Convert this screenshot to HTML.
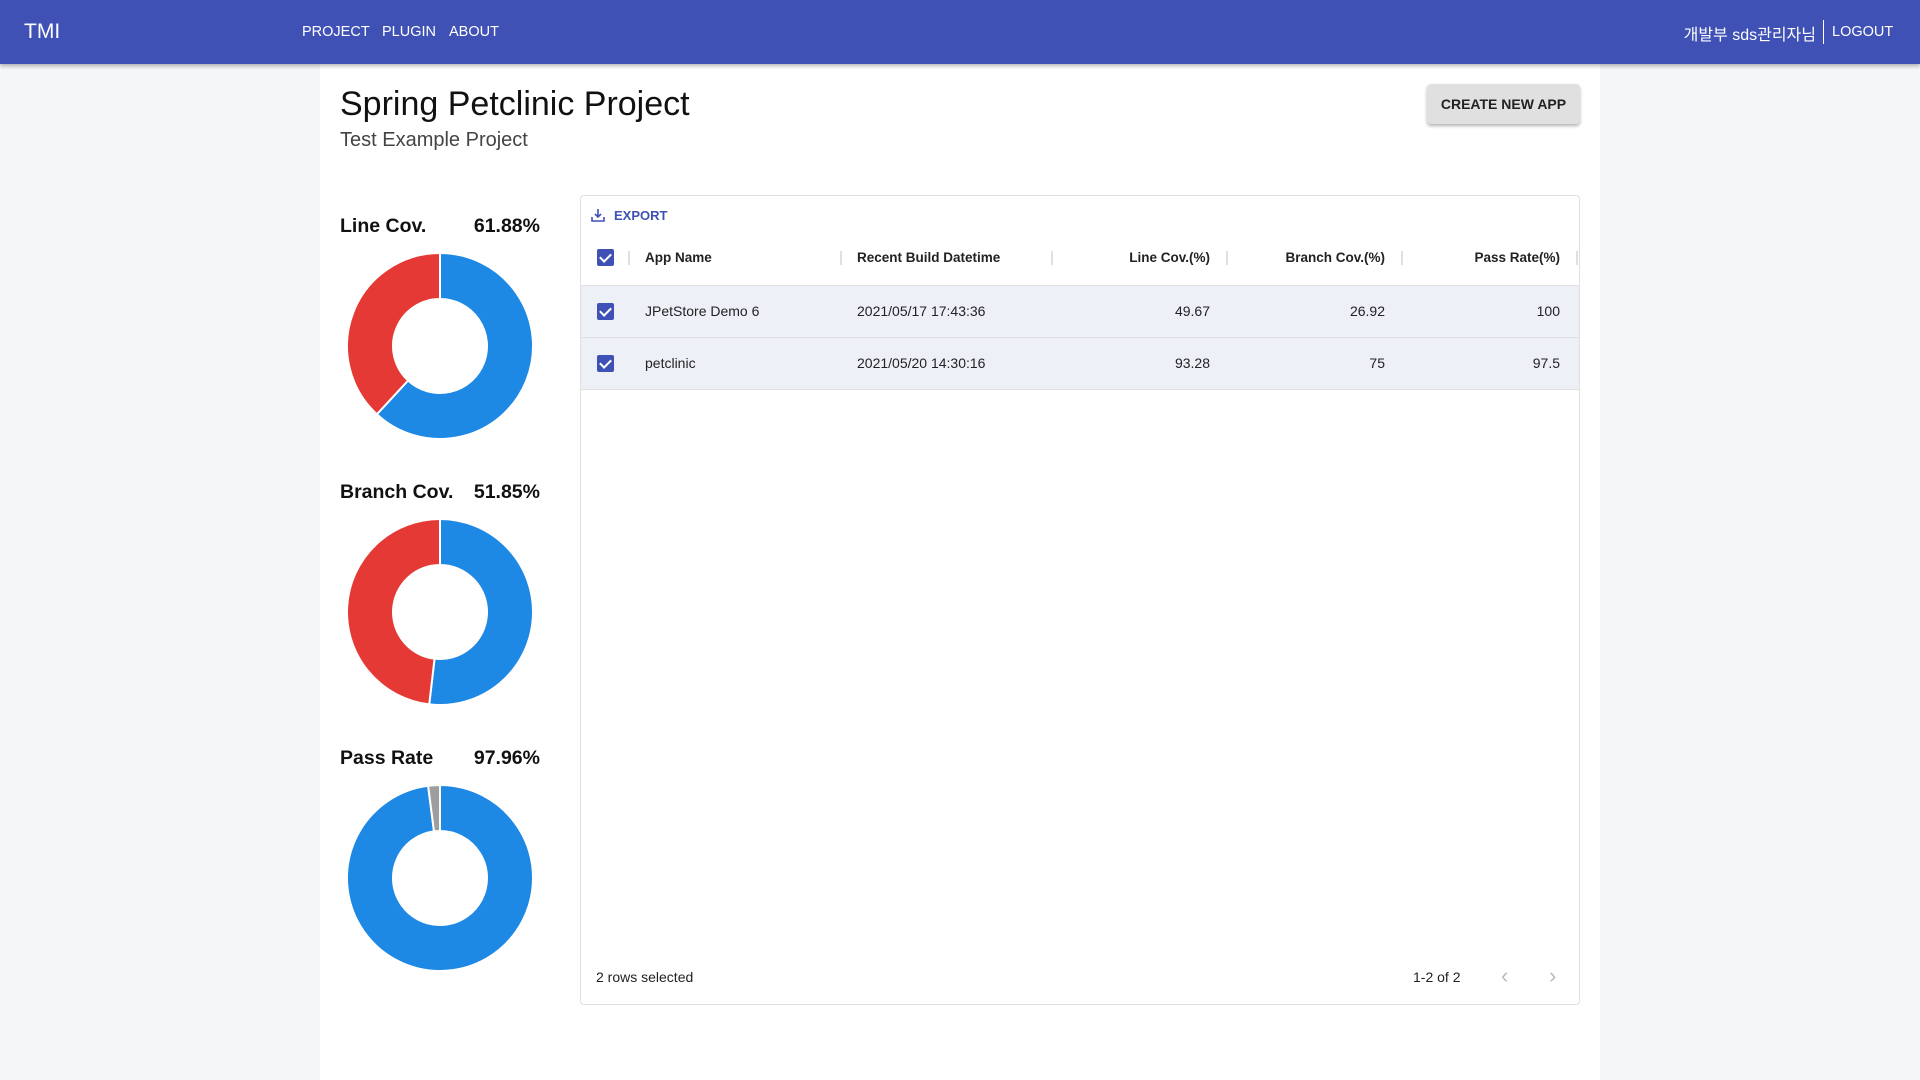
<!DOCTYPE html>
<html><head><meta charset="utf-8">
<style>
*{box-sizing:border-box;margin:0;padding:0}
body{width:1920px;height:1080px;overflow:hidden;background:#f5f6f8;font-family:"Liberation Sans","Noto Sans CJK KR",sans-serif;color:#212121;position:relative}
.abs{position:absolute}
#hdr{left:0;top:0;width:1920px;height:64px;background:#3f51b5;box-shadow:0 2px 4px rgba(0,0,0,.3);color:#fff;z-index:2}
.nav{font-size:14.5px;font-weight:500;top:24px}
#panel{left:320px;top:64px;width:1280px;height:1016px;background:#fff}
#tbl{left:580px;top:195px;width:1000px;height:810px;border:1px solid #e0e0e0;border-radius:4px;background:#fff}
.cell{font-size:14px;color:#222;position:absolute}
.hcell{font-size:13.5px;font-weight:bold;color:#222;position:absolute}
.sep{position:absolute;width:2px;height:14px;background:#e0e0e0}
.cb{position:absolute;width:17px;height:17px;background:#3f51b5;border-radius:2px}
.cb:after{content:"";position:absolute;left:5px;top:2px;width:5px;height:9px;border:solid #fff;border-width:0 2px 2px 0;transform:rotate(45deg)}
.row{position:absolute;left:0;width:998px;background:#eef0f8;border-bottom:1px solid #e0e0e0}
</style></head><body>
<div id="hdr" class="abs">
 <div class="abs" style="left:24px;top:20px;font-size:21px">TMI</div>
 <div class="abs nav" style="left:302px">PROJECT</div>
 <div class="abs nav" style="left:382px">PLUGIN</div>
 <div class="abs nav" style="left:449px">ABOUT</div>
 <div class="abs" style="right:104px;top:21px;font-size:16px">개발부 sds관리자님</div>
 <div class="abs" style="left:1823px;top:20px;width:1px;height:24px;background:#fff"></div>
 <div class="abs nav" style="left:1832px">LOGOUT</div>
</div>
<div id="panel" class="abs"></div>
<div class="abs" style="left:340px;top:85px;font-size:34px;color:#111">Spring Petclinic Project</div>
<div class="abs" style="left:340px;top:129px;font-size:20px;color:#444">Test Example Project</div>
<div class="abs" style="left:1427px;top:84px;width:153px;height:40px;background:#e0e0e0;border-radius:4px;box-shadow:0 2px 3px rgba(0,0,0,.3);font-size:14px;font-weight:bold;text-align:center;line-height:40px;color:#222">CREATE NEW APP</div>

<svg id="donuts" class="abs" style="left:320px;top:195px" width="260" height="800"></svg>

<div id="tbl" class="abs">
 <svg class="abs" style="left:9px;top:11px" width="16" height="16" viewBox="0 0 16 16"><path d="M8 2v8M5 7l3 3 3-3M2 10v4h12v-4" fill="none" stroke="#3f51b5" stroke-width="1.6"/></svg>
 <div class="abs" style="left:33px;top:12px;font-size:13px;font-weight:bold;color:#3f51b5">EXPORT</div>
 <div class="cb" style="left:16px;top:53px"></div>
 <div class="sep" style="left:47px;top:55px"></div>
 <div class="hcell" style="left:64px;top:54px">App Name</div>
 <div class="sep" style="left:259px;top:55px"></div>
 <div class="hcell" style="left:276px;top:54px">Recent Build Datetime</div>
 <div class="sep" style="left:470px;top:55px"></div>
 <div class="hcell" style="right:369px;top:54px">Line Cov.(%)</div>
 <div class="sep" style="left:645px;top:55px"></div>
 <div class="hcell" style="right:194px;top:54px">Branch Cov.(%)</div>
 <div class="sep" style="left:820px;top:55px"></div>
 <div class="hcell" style="right:19px;top:54px">Pass Rate(%)</div>
 <div class="sep" style="left:995px;top:55px"></div>
 <div class="abs" style="left:0;top:89px;width:998px;height:1px;background:#e0e0e0"></div>
 <div class="row" style="top:90px;height:52px">
  <div class="cb" style="left:16px;top:17px"></div>
  <div class="cell" style="left:64px;top:17px">JPetStore Demo 6</div>
  <div class="cell" style="left:276px;top:17px">2021/05/17 17:43:36</div>
  <div class="cell" style="right:369px;top:17px">49.67</div>
  <div class="cell" style="right:194px;top:17px">26.92</div>
  <div class="cell" style="right:19px;top:17px">100</div>
 </div>
 <div class="row" style="top:142px;height:52px">
  <div class="cb" style="left:16px;top:17px"></div>
  <div class="cell" style="left:64px;top:17px">petclinic</div>
  <div class="cell" style="left:276px;top:17px">2021/05/20 14:30:16</div>
  <div class="cell" style="right:369px;top:17px">93.28</div>
  <div class="cell" style="right:194px;top:17px">75</div>
  <div class="cell" style="right:19px;top:17px">97.5</div>
 </div>
 <div class="cell" style="left:15px;top:773px">2 rows selected</div>
 <div class="cell" style="left:832px;top:773px">1-2 of 2</div>
 <div class="cell" style="left:920px;top:767px;font-size:22px;color:#bbb">‹</div>
 <div class="cell" style="left:968px;top:767px;font-size:22px;color:#bbb">›</div>
</div>

<script>
const metricNames = ["Line Cov.", "Branch Cov.", "Pass Rate"];
const metricValues = [61.88, 51.85, 97.96];
const remainderColors = ["#e53935", "#e53935", "#9e9e9e"];
const svg = document.getElementById('donuts');
const NS = "http://www.w3.org/2000/svg";
const cx = 120, R = 93, r = 47, gap = 266;
function pt(rad, frac, cy){const a = frac*2*Math.PI - Math.PI/2; return [cx+rad*Math.cos(a), cy+rad*Math.sin(a)];}
function arc(f0, f1, cy){
  const big = (f1-f0) > 0.5 ? 1 : 0;
  const [x0,y0]=pt(R,f0,cy),[x1,y1]=pt(R,f1,cy),[x2,y2]=pt(r,f1,cy),[x3,y3]=pt(r,f0,cy);
  return `M${x0},${y0}A${R},${R} 0 ${big} 1 ${x1},${y1}L${x2},${y2}A${r},${r} 0 ${big} 0 ${x3},${y3}Z`;
}
metricNames.forEach((name, i) => {
  const top = i*gap;
  const cy = top + 151;
  const t = document.createElementNS(NS, 'text');
  
  
  t.setAttribute('x', 20); t.setAttribute('y', top+37);
  t.setAttribute('font-size', '19.5'); t.setAttribute('font-weight', 'bold'); t.setAttribute('fill', '#111');
  t.textContent = name; svg.appendChild(t);
  const v = document.createElementNS(NS, 'text');
  
  
  v.setAttribute('x', 220); v.setAttribute('y', top+37); v.setAttribute('text-anchor', 'end');
  v.setAttribute('font-size', '19.5'); v.setAttribute('font-weight', 'bold'); v.setAttribute('fill', '#111');
  v.textContent = metricValues[i].toFixed(2) + '%'; svg.appendChild(v);
  const f = metricValues[i]/100;
  const p1 = document.createElementNS(NS, 'path');
  
  
  p1.setAttribute('d', arc(0, f, cy)); p1.setAttribute('fill', '#1e88e5');
  p1.setAttribute('stroke', '#fff'); p1.setAttribute('stroke-width', '2');
  svg.appendChild(p1);
  const p2 = document.createElementNS(NS, 'path');
  
  
  p2.setAttribute('d', arc(f, 1, cy)); p2.setAttribute('fill', remainderColors[i]);
  p2.setAttribute('stroke', '#fff'); p2.setAttribute('stroke-width', '2');
  svg.appendChild(p2);
});
</script>
</body></html>
